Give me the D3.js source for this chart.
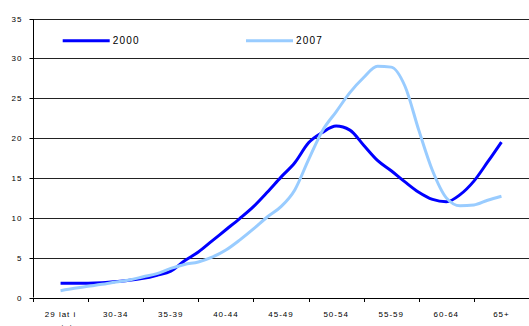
<!DOCTYPE html>
<html>
<head>
<meta charset="utf-8">
<script src="https://cdn.jsdelivr.net/npm/d3@7"></script>
<style>
  html, body { margin: 0; padding: 0; background: #fff; }
  svg { display: block; }
  text { font-family: "Liberation Sans", Arial, sans-serif; fill: #000; }
</style>
</head>
<body>
<svg id="chart" width="529" height="326"></svg>
<script>
// Age groups on the x axis
const categories = ["29 lat i mniej", "30-34", "35-39", "40-44", "45-49", "50-54", "55-59", "60-64", "65+"];
// Values sampled every quarter of an age group, from the first group to the last
const series2000 = [1.8, 1.8, 1.8, 1.85, 2.0, 2.15, 2.4, 2.8, 3.3, 4.6, 5.7, 7.1, 8.5, 9.9, 11.4, 13.2,
  15.1, 16.9, 19.4, 20.7, 21.5, 21.0, 19.1, 17.2, 15.9, 14.5, 13.2, 12.3, 12.0, 12.9, 14.6, 17.0, 19.5];
const series2007 = [0.85, 1.15, 1.4, 1.65, 1.95, 2.2, 2.6, 3.0, 3.65, 4.15, 4.45, 5.05, 5.95, 7.2, 8.6, 10.1,
  11.4, 13.5, 17.3, 20.9, 23.3, 25.7, 27.6, 29.0, 28.9, 26.5, 21.0, 15.9, 12.5, 11.5, 11.6, 12.2, 12.7];
const seriesNames = ["2000", "2007"];
const seriesColors = ["#0000ff", "#99ccff"];
const yTicks = [0, 5, 10, 15, 20, 25, 30, 35];

const svg = d3.select("#chart");
const plotLeft = 33, plotRight = 529, plotTop = 18.5, plotBottom = 297.5;

const x = d3.scaleLinear().domain([-0.5, categories.length - 0.5]).range([plotLeft, plotRight]);
const y = d3.scaleLinear().domain([0, 35]).range([plotBottom, plotTop]);

// Horizontal gridlines
svg.append("g")
  .selectAll("line")
  .data(yTicks.filter(d => d > 0))
  .join("line")
  .attr("x1", plotLeft).attr("x2", plotRight)
  .attr("y1", d => Math.round(y(d)) + 0.5).attr("y2", d => Math.round(y(d)) + 0.5)
  .attr("stroke", "#222").attr("stroke-width", 1);

// Y axis
const yAxis = svg.append("g")
  .attr("transform", `translate(${plotLeft + 0.5},0)`)
  .call(d3.axisLeft(y).tickValues(yTicks).tickSize(4).tickPadding(7).tickFormat(d3.format("d")));
yAxis.select(".domain").attr("stroke", "#000").attr("d", `M0,${Math.round(y(35)) + 0.5}V${plotBottom}`);
yAxis.selectAll(".tick line").attr("stroke", "#000");
yAxis.selectAll(".tick text")
  .style("font-size", "8px").style("letter-spacing", "1px")
  .attr("font-family", null);
yAxis.selectAll(".tick").attr("transform", d => `translate(0,${Math.round(y(d)) + 0.5})`);

// X axis baseline with tick marks at group boundaries
const xg = svg.append("g");
xg.append("line")
  .attr("x1", plotLeft).attr("x2", plotRight)
  .attr("y1", Math.round(plotBottom) + 0.5).attr("y2", Math.round(plotBottom) + 0.5)
  .attr("stroke", "#000");
xg.selectAll("line.tk")
  .data(d3.range(categories.length + 1))
  .join("line").attr("class", "tk")
  .attr("x1", d => Math.round(x(d - 0.5)) + 0.5).attr("x2", d => Math.round(x(d - 0.5)) + 0.5)
  .attr("y1", Math.round(plotBottom)).attr("y2", Math.round(plotBottom) + 4)
  .attr("stroke", "#000");

// Category labels (the first one wraps onto two lines)
const labelWraps = { "29 lat i mniej": ["29 lat i", "mniej"] };
xg.selectAll("text.cat")
  .data(categories)
  .join("text").attr("class", "cat")
  .attr("x", (d, i) => x(i))
  .attr("y", 316.5)
  .attr("text-anchor", "middle")
  .style("font-size", "8px").style("letter-spacing", "1px")
  .each(function (d) {
    const lines = labelWraps[d] || [d];
    const cx = d3.select(this).attr("x");
    d3.select(this).selectAll("tspan").data(lines).join("tspan")
      .attr("x", cx)
      .attr("dy", (l, j) => j === 0 ? 0 : 13)
      .text(l => l);
  });

// Series lines
const line = d3.line()
  .x((d, i) => x(i / 4))
  .y(d => y(d))
  .curve(d3.curveMonotoneX);

[series2000, series2007].forEach((s, k) => {
  svg.append("path")
    .datum(s)
    .attr("fill", "none")
    .attr("stroke", seriesColors[k])
    .attr("stroke-width", 3)
    .attr("stroke-linejoin", "round")
    .attr("d", line);
});

// Legend
const legendX = [62.7, 246];
seriesNames.forEach((name, k) => {
  const g = svg.append("g");
  g.append("line")
    .attr("x1", legendX[k]).attr("x2", legendX[k] + 47)
    .attr("y1", 40.7).attr("y2", 40.7)
    .attr("stroke", seriesColors[k]).attr("stroke-width", 3);
  g.append("text")
    .attr("x", legendX[k] + 50).attr("y", 44.3)
    .style("font-size", "10px").style("letter-spacing", "1.2px")
    .text(name);
});
</script>
</body>
</html>
